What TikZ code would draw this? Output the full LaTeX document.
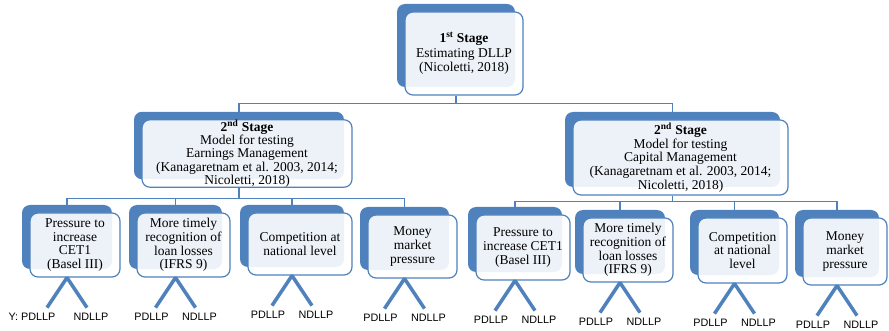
\documentclass[tikz,border=0pt]{standalone}
\usepackage{fontspec}
\setmainfont{Liberation Serif}
\setsansfont{Liberation Sans}
\usetikzlibrary{positioning,shadows}
\definecolor{boxblue}{RGB}{79,129,189}
\tikzset{
  stage/.style={draw=boxblue, line width=1.2pt, rounded corners=8pt, fill=white,
    fill opacity=0.9, text opacity=1, align=center, inner sep=0pt,
    font=\fontsize{13.5}{13.6}\selectfont,
    general shadow={fill=boxblue, fill opacity=1, shadow xshift=-8pt, shadow yshift=8pt}},
  conn/.style={draw=boxblue, line width=1.3pt},
  leg/.style={draw=boxblue, line width=3.5pt, line join=bevel},
  lbl/.style={font=\sffamily\fontsize{10.8}{12}\selectfont, inner sep=1pt},
  pl/.style={lbl, xshift=-4pt},
  nl/.style={lbl, xshift=4pt},
}

\begin{document}
\begin{tikzpicture}[x=1pt, y=-1pt]
    \useasboundingbox (0,0) rectangle (889,331);

    \node[stage, minimum width=118pt, minimum height=83pt, font=\fontsize{13.5}{14.5}\selectfont] (s1) at (464,53.5) {\textbf{1\textsuperscript{st} Stage}\\Estimating DLLP\\(Nicoletti, 2018)};
    \node[stage, minimum width=210pt, minimum height=67pt, font=\fontsize{13.5}{13.2}\selectfont] (s2a) at (247,153.5) {\textbf{2\textsuperscript{nd} Stage}\\Model for testing\\Earnings Management\\(Kanagaretnam et al. 2003, 2014;\\Nicoletti, 2018)};
    \node[stage, minimum width=215pt, minimum height=75pt] (s2b) at (680.5,157.5) {\textbf{2\textsuperscript{nd} Stage}\\Model for testing\\Capital Management\\(Kanagaretnam et al. 2003, 2014;\\Nicoletti, 2018)};

    \node[stage, minimum width=90pt, minimum height=64pt] (b1) at (75,245) {Pressure to\\increase\\CET1\\(Basel III)};
    \node[stage, minimum width=93pt, minimum height=64pt] (b2) at (183.5,245) {More timely\\recognition of\\loan losses\\(IFRS 9)};
    \node[stage, minimum width=104pt, minimum height=62pt] (b3) at (300,244) {Competition at\\national level};
    \node[stage, minimum width=89pt, minimum height=63pt] (b4) at (412.5,246.5) {Money\\market\\pressure};
    \node[stage, minimum width=94pt, minimum height=65pt] (b5) at (523,247.5) {Pressure to\\increase CET1\\(Basel III)};
    \node[stage, minimum width=90pt, minimum height=64pt] (b6) at (628,250) {More timely\\recognition of\\loan losses\\(IFRS 9)};
    \node[stage, minimum width=89pt, minimum height=65pt] (b7) at (742.5,250.5) {Competition\\at national\\level};
    \node[stage, minimum width=84pt, minimum height=67pt] (b8) at (845,251.5) {Money\\market\\pressure};

    \draw[conn] ([xshift=-8pt]s1.south) -- ++(0,8) -| ([xshift=-8pt]s2a.north);
    \draw[conn] ([xshift=-8pt]s1.south) -- ++(0,8) -| ([xshift=-8pt]s2b.north);

    \draw[conn] ([xshift=-8pt]s2a.south) -- ++(0,11) -| ([xshift=-8pt]b1.north);
    \draw[conn] ([xshift=-8pt]s2a.south) -- ++(0,11) -| ([xshift=-8pt]b2.north);
    \draw[conn] ([xshift=-8pt]s2a.south) -- ++(0,11) -| ([xshift=-8pt]b3.north);
    \draw[conn] ([xshift=-8pt]s2a.south) -- ++(0,11) -| ([xshift=-8pt]b4.north);
    \draw[conn] ([xshift=-8pt]s2b.south) -- ++(0,6) -| ([xshift=-8pt]b5.north);
    \draw[conn] ([xshift=-8pt]s2b.south) -- ++(0,6) -| ([xshift=-8pt]b6.north);
    \draw[conn] ([xshift=-8pt]s2b.south) -- ++(0,6) -| ([xshift=-8pt]b7.north);
    \draw[conn] ([xshift=-8pt]s2b.south) -- ++(0,6) -| ([xshift=-8pt]b8.north);

    % legs under the boxes
    \draw[leg] ([xshift=-8pt]b1.south) ++(-20,30) coordinate (p1) -- ([xshift=-8pt]b1.south) -- ++(20,30) coordinate (n1);
    \draw[leg] ([xshift=-8pt]b2.south) ++(-20,30) coordinate (p2) -- ([xshift=-8pt]b2.south) -- ++(20,30) coordinate (n2);
    \draw[leg] ([xshift=-8pt]b3.south) ++(-20,30) coordinate (p3) -- ([xshift=-8pt]b3.south) -- ++(20,30) coordinate (n3);
    \draw[leg] ([xshift=-8pt]b4.south) ++(-20,30) coordinate (p4) -- ([xshift=-8pt]b4.south) -- ++(20,30) coordinate (n4);
    \draw[leg] ([xshift=-8pt]b5.south) ++(-20,30) coordinate (p5) -- ([xshift=-8pt]b5.south) -- ++(20,30) coordinate (n5);
    \draw[leg] ([xshift=-8pt]b6.south) ++(-20,30) coordinate (p6) -- ([xshift=-8pt]b6.south) -- ++(20,30) coordinate (n6);
    \draw[leg] ([xshift=-8pt]b7.south) ++(-20,30) coordinate (p7) -- ([xshift=-8pt]b7.south) -- ++(20,30) coordinate (n7);
    \draw[leg] ([xshift=-8pt]b8.south) ++(-20,30) coordinate (p8) -- ([xshift=-8pt]b8.south) -- ++(20,30) coordinate (n8);

    \node[lbl, below=4pt of p1, xshift=-15pt] (p1t) {Y: PDLLP};
    \node[nl, below=4pt of n1] (n1t) {NDLLP};
    \node[pl, below=4pt of p2] (p2t) {PDLLP};
    \node[nl, below=4pt of n2] (n2t) {NDLLP};
    \node[pl, below=4pt of p3] (p3t) {PDLLP};
    \node[nl, below=4pt of n3] (n3t) {NDLLP};
    \node[pl, below=4pt of p4] (p4t) {PDLLP};
    \node[nl, below=4pt of n4] (n4t) {NDLLP};
    \node[pl, below=4pt of p5] (p5t) {PDLLP};
    \node[nl, below=4pt of n5] (n5t) {NDLLP};
    \node[pl, below=4pt of p6] (p6t) {PDLLP};
    \node[nl, below=4pt of n6] (n6t) {NDLLP};
    \node[pl, below=4pt of p7] (p7t) {PDLLP};
    \node[nl, below=4pt of n7] (n7t) {NDLLP};
    \node[pl, below=4pt of p8] (p8t) {PDLLP};
    \node[nl, below=4pt of n8] (n8t) {NDLLP};
\end{tikzpicture}
\end{document}
